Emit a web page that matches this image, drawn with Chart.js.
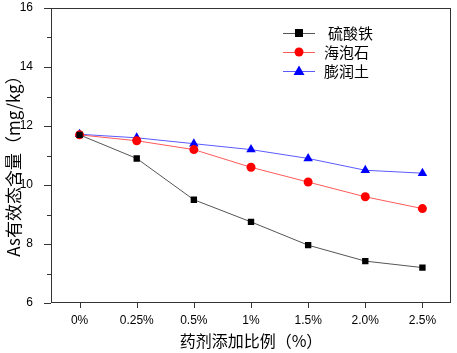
<!DOCTYPE html>
<html><head><meta charset="utf-8">
<script src="https://cdn.jsdelivr.net/npm/chart.js@4/dist/chart.umd.min.js"></script>
<style>html,body{margin:0;padding:0;background:#fff}#wrap{width:457px;height:353px}</style>
</head><body><div id="wrap"><canvas id="c" width="457" height="353"></canvas></div>
<script>
const categories = ['0%', '0.25%', '0.5%', '1%', '1.5%', '2.0%', '2.5%'];
const seriesNames = ['硫酸铁', '海泡石', '膨润土'];
const ironSulfate = [11.7, 10.9, 9.5, 8.75, 7.96, 7.42, 7.2];
const sepiolite = [11.7, 11.5, 11.2, 10.6, 10.1, 9.6, 9.2];
const bentonite = [11.72, 11.6, 11.4, 11.2, 10.9, 10.5, 10.4];
const yTicks = [6, 8, 10, 12, 14, 16];
const xTitle = '药剂添加比例（%）';
const yTitle = 'As有效态含量（mg/kg）';

const CJK = '"Noto Sans CJK SC", sans-serif';
const LAT = '"Liberation Sans", Arial, sans-serif';

const tickPlugin = {
  id: 'ticksbox',
  afterDraw(chart) {
    const ctx = chart.ctx, a = chart.chartArea;
    const xs = chart.scales.x, ys = chart.scales.y;
    ctx.save();
    ctx.strokeStyle = '#333'; ctx.lineWidth = 1;
    ctx.strokeRect(Math.round(a.left) + 0.5, Math.round(a.top) + 0.5, Math.round(a.right - a.left) - 1, Math.round(a.bottom - a.top) - 1);
    ctx.beginPath();
    for (let v = 6; v <= 16; v++) {
      const y = Math.round(ys.getPixelForValue(v)) + 0.5;
      const len = (v % 2 === 0) ? 7 : 4;
      ctx.moveTo(a.left, y); ctx.lineTo(a.left - len, y);
    }
    categories.forEach((c, i) => {
      const x = Math.round(xs.getPixelForValue(i)) + 0.5;
      ctx.moveTo(x, a.bottom); ctx.lineTo(x, a.bottom + 5);
    });
    ctx.stroke();
    // y title
    ctx.save();
    ctx.translate(14, 162);
    ctx.rotate(-Math.PI / 2);
    ctx.fillStyle = '#000'; ctx.font = '17px ' + CJK;
    ctx.textAlign = 'center'; ctx.textBaseline = 'middle';
    ctx.fillText(yTitle, 0, 0);
    ctx.restore();
    // legend
    const rows = [33, 52, 71];
    const ds = chart.data.datasets;
    ds.forEach((d, i) => {
      const y = rows[i];
      ctx.strokeStyle = d.borderColor; ctx.lineWidth = 1;
      ctx.beginPath(); ctx.moveTo(283, y + 0.5); ctx.lineTo(315, y + 0.5); ctx.stroke();
      ctx.fillStyle = d.pointBackgroundColor;
      const st = d.pointStyle;
      ctx.beginPath();
      if (st === 'rect') { ctx.fillRect(295, y - 4, 8, 8); }
      else if (st === 'circle') { ctx.arc(299, y, 4.5, 0, Math.PI * 2); ctx.fill(); }
      else { ctx.moveTo(299, y - 5.5); ctx.lineTo(304.5, y + 4); ctx.lineTo(293.5, y + 4); ctx.closePath(); ctx.fill(); }
      ctx.fillStyle = '#000'; ctx.font = '15px ' + CJK;
      ctx.textBaseline = 'middle'; ctx.textAlign = 'left';
      ctx.fillText(seriesNames[i], i === 0 ? 328 : 324, y);
    });
    ctx.restore();
  }
};

new Chart(document.getElementById('c'), {
  type: 'line',
  data: {
    labels: categories,
    datasets: [
      { label: seriesNames[0], data: ironSulfate, borderColor: '#555555', borderWidth: 1, pointStyle: 'rect', pointRadius: 4.5, pointBackgroundColor: '#000', pointBorderColor: '#000', pointBorderWidth: 0 },
      { label: seriesNames[1], data: sepiolite, borderColor: '#ff5a5a', borderWidth: 1, pointStyle: 'circle', pointRadius: 4.5, pointBackgroundColor: '#ff0000', pointBorderColor: '#ff0000', pointBorderWidth: 0 },
      { label: seriesNames[2], data: bentonite, borderColor: '#5a5aff', borderWidth: 1, pointStyle: 'triangle', pointRadius: 5.5, pointBackgroundColor: '#0000ff', pointBorderColor: '#0000ff', pointBorderWidth: 0 }
    ]
  },
  options: {
    responsive: false, animation: false,
    layout: { autoPadding: false, padding: { left: 0, right: 6, top: 0, bottom: 0 } },
    plugins: { legend: { display: false }, tooltip: { enabled: false } },
    scales: {
      x: {
        offset: true,
        grid: { display: false }, border: { display: false },
        ticks: { color: '#000', font: { family: LAT, size: 12 }, padding: 2, maxRotation: 0 },
        title: { display: true, text: xTitle, color: '#000', font: { family: CJK, size: 16 }, padding: { top: 2, bottom: 2 } },
        afterFit(s) { s.height = 50; s.paddingLeft = 0; s.paddingRight = 0; }
      },
      y: {
        min: 6, max: 16,
        afterBuildTicks(s) { s.ticks = yTicks.map(v => ({ value: v })); },
        grid: { display: false }, border: { display: false },
        ticks: { color: '#000', font: { family: LAT, size: 12 }, padding: 10 },
        title: { display: false },
        afterFit(s) { s.width = 51; s.paddingTop = 8; s.paddingBottom = 0; }
      }
    }
  },
  plugins: [tickPlugin]
});
</script></body></html>
